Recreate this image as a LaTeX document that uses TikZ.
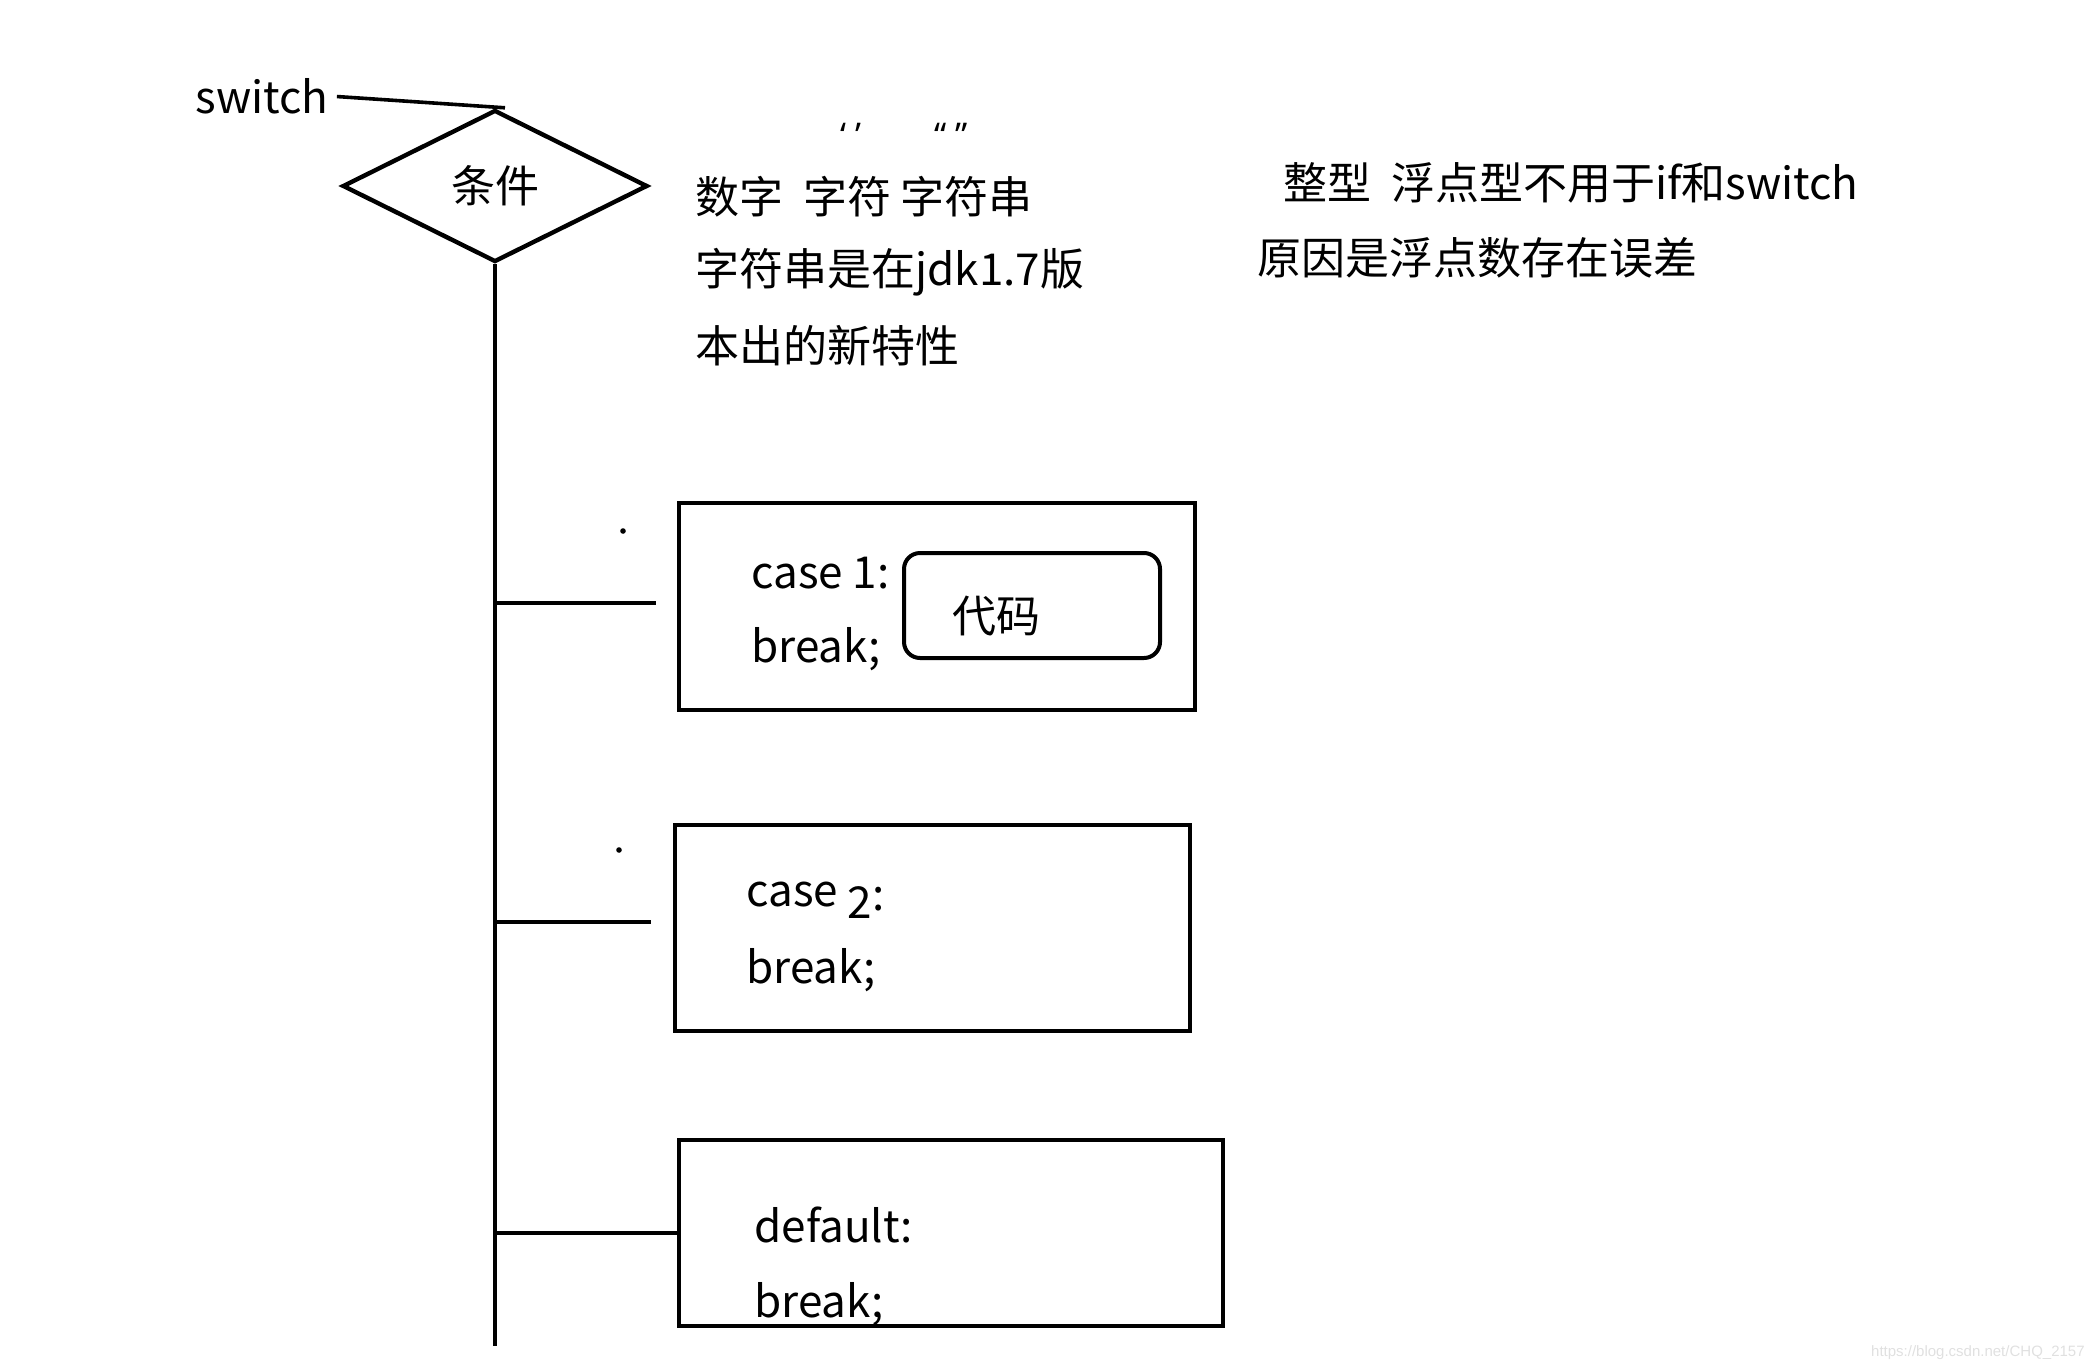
\documentclass[tikz,border=0pt]{standalone}
\usepackage{fontspec}
\setmainfont{Noto Sans CJK SC}
\newfontfamily\quotefont{Noto Sans}
\newfontfamily\markfont{Liberation Sans}
\usetikzlibrary{shapes.geometric,positioning}
\newcommand\bigsize{\fontsize{22pt}{26pt}\selectfont}
\tikzset{
  txt/.style={inner sep=0pt, font=\bigsize},
  cond/.style={draw, diamond, line width=2.2pt, inner sep=0pt, minimum width=152.5pt, minimum height=76pt, font=\bigsize},
  casebox/.style={draw, line width=2.2pt, inner sep=0pt},
  codebox/.style={draw, line width=2pt, rounded corners=8pt, inner sep=0pt, minimum width=128pt, minimum height=52.5pt},
  dotmark/.style={circle, fill, inner sep=0pt, minimum size=2.8pt},
  edge/.style={line width=2.2pt},
  thinedge/.style={line width=1.8pt},
  quote/.style={inner sep=0pt, anchor=base, font=\quotefont\fontsize{17pt}{20pt}\selectfont}
}
\begin{document}
\begin{tikzpicture}[x=0.5pt, y=-0.5pt]
\useasboundingbox (0,0) rectangle (2096,1370);

\node[txt] (sw) at (262,96) {switch};
\node[cond] (cond) at (495,186) {条件};
\coordinate (tend) at (495,1346);
\draw[edge] (cond.south) -- (tend);
\draw[thinedge, shorten <=4pt] (sw.east) -- ([xshift=5pt]cond.north);

\node[quote] (q1) at (851,148) {‘ ’};
\node[quote] (q2) at (951,148) {“ ”};
\node[txt, anchor=west] (kinds) at (695,197) {数字\ \ 字符 字符串};
\node[txt, anchor=west] (ver) at (695,272) {字符串是在jdk1.7版};
\node[txt, anchor=west] (feat) at (695,346) {本出的新特性};

\node[txt, anchor=west] (flt) at (1283,183) {整型\ \ 浮点型不用于if和switch};
\node[txt, anchor=west] (why) at (1257,258) {原因是浮点数存在误差};

% case 1
\node[casebox, minimum width=258pt, minimum height=103.5pt] (box1) at (937,606.5) {};
\node[txt, anchor=base west] (case1) at (751,588) {case 1:};
\node[txt, anchor=base west] (brk1) at (751,662) {break;};
\node[codebox] (code) at (1032,605.5) {};
\node[txt] (codetxt) at (996,616) {代码};
\node[dotmark] (d1) at (623,531) {};
\coordinate (e1) at (656,603);
\draw[edge] (cond.south |- e1) -- (e1);

% case 2
\node[casebox, minimum width=257.5pt, minimum height=103pt] (box2) at (932.5,928) {};
\node[txt, anchor=base west] (case2) at (746,906) {case \raisebox{-6pt}{2}\raisebox{-2pt}{:}};
\node[txt, anchor=base west] (brk2) at (746,983) {break;};
\node[dotmark] (d2) at (619,850) {};
\coordinate (e2) at (651,922);
\draw[edge] (cond.south |- e2) -- (e2);

% default
\node[casebox, minimum width=272pt, minimum height=93pt] (box3) at (951,1233) {};
\node[txt, anchor=base west] (dflt) at (754,1242) {default:};
\node[txt, anchor=base west] (brk3) at (754,1317) {break;};
\draw[edge] (cond.south |- box3.west) -- (box3.west);

\node[inner sep=0pt, anchor=east, text=black!12, font=\markfont\fontsize{7.5pt}{9pt}\selectfont] (mark) at (2085,1353) {https://blog.csdn.net/CHQ\_2157};
\end{tikzpicture}
\end{document}
